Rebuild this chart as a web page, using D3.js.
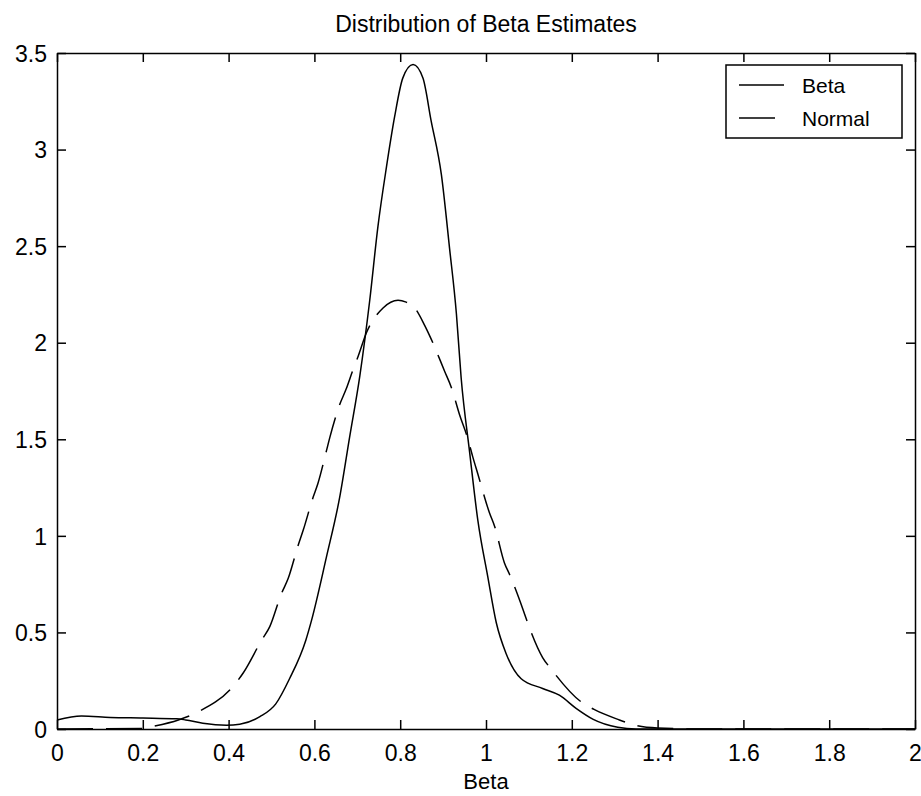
<!DOCTYPE html>
<html>
<head>
<meta charset="utf-8">
<script src="https://cdn.jsdelivr.net/npm/d3@7"></script>
<style>
    body { margin: 0; background: #fff; }
    text { font-family: "Liberation Sans", Arial, sans-serif; fill: #000; }
</style>
</head>
<body>
<div id="chart"></div>
<script>
'use strict';

let width = 921;
let height = 796;
let margin = { top: 53, bottom: 67, left: 57, right: 6 };

// values
const betaX = [0, 0.057, 0.124, 0.2, 0.279, 0.30, 0.34, 0.395, 0.426, 0.473, 0.51, 0.542, 0.58, 0.593,
    0.628, 0.659, 0.682, 0.706, 0.729, 0.748, 0.768, 0.787, 0.806, 0.830, 0.853, 0.872, 0.896, 0.915,
    0.931, 0.942, 0.962, 0.981, 1.004, 1.024, 1.047, 1.082, 1.132, 1.171, 1.21, 1.25, 1.307, 1.35, 2.0];
const betaY = [0.047, 0.067, 0.06, 0.057, 0.053, 0.047, 0.03, 0.02, 0.025, 0.064, 0.13, 0.26, 0.46, 0.56,
    0.89, 1.20, 1.51, 1.83, 2.22, 2.60, 2.91, 3.17, 3.37, 3.44, 3.37, 3.15, 2.87, 2.49,
    2.15, 1.82, 1.43, 1.08, 0.79, 0.55, 0.39, 0.26, 0.21, 0.175, 0.107, 0.05, 0.009, 0, 0];

const normalX = [0, 0.2, 0.22, 0.283, 0.33, 0.41, 0.434, 0.477, 0.496, 0.523, 0.539, 0.562, 0.574, 0.597,
    0.608, 0.628, 0.636, 0.659, 0.674, 0.690, 0.702, 0.721, 0.760, 0.795, 0.814, 0.830, 0.857, 0.872,
    0.904, 0.919, 0.938, 0.958, 0.969, 0.981, 1.008, 1.02, 1.043, 1.055, 1.086, 1.097, 1.132, 1.152,
    1.222, 1.253, 1.311, 1.346, 1.40, 1.5, 2.0];
const normalY = [0, 0.003, 0.012, 0.047, 0.09, 0.22, 0.29, 0.46, 0.53, 0.70, 0.78, 0.95, 1.03, 1.20,
    1.27, 1.44, 1.51, 1.68, 1.76, 1.86, 1.93, 2.05, 2.18, 2.22, 2.21, 2.19, 2.09, 2.02,
    1.85, 1.77, 1.63, 1.50, 1.41, 1.32, 1.12, 1.05, 0.86, 0.80, 0.62, 0.55, 0.37, 0.31,
    0.14, 0.10, 0.047, 0.02, 0.005, 0, 0];

const xTicks = [0, 0.2, 0.4, 0.6, 0.8, 1, 1.2, 1.4, 1.6, 1.8, 2];
const yTicks = [0, 0.5, 1, 1.5, 2, 2.5, 3, 3.5];
const seriesNames = ["Beta", "Normal"];

const title = "Distribution of Beta Estimates";
const xLabel = "Beta";

let svg = d3.select("#chart")
    .append("svg")
    .attr("width", width)
    .attr("height", height);

const xScale = d3.scaleLinear()
    .domain([0, 2])
    .range([margin.left, width - margin.right]);

const yScale = d3.scaleLinear()
    .domain([0, 3.5])
    .range([height - margin.bottom, margin.top]);

const x0 = xScale.range()[0], x1 = xScale.range()[1];
const y0 = yScale.range()[0], y1 = yScale.range()[1];
const tickLen = 9;

// axes (bottom/left with labels, top/right mirrored ticks only)
const xAxis = d3.axisBottom(xScale)
    .tickValues(xTicks)
    .tickSizeInner(-tickLen)
    .tickSizeOuter(0)
    .tickPadding(16)
    .tickFormat(d3.format("~g"));

const yAxis = d3.axisLeft(yScale)
    .tickValues(yTicks)
    .tickSizeInner(-tickLen)
    .tickSizeOuter(0)
    .tickPadding(10)
    .tickFormat(d3.format("~g"));

svg.append("g")
    .attr("transform", `translate(0,${y0})`)
    .call(xAxis)
    .call(g => g.selectAll("text").style("font-size", "23px"));

svg.append("g")
    .attr("transform", `translate(${x0},0)`)
    .call(yAxis)
    .call(g => g.selectAll("text").style("font-size", "23px").attr("dy", "0.36em"));

svg.append("g")
    .attr("transform", `translate(0,${y1})`)
    .call(d3.axisTop(xScale).tickValues(xTicks).tickSizeInner(-tickLen).tickSizeOuter(0).tickFormat(""));

svg.append("g")
    .attr("transform", `translate(${x1},0)`)
    .call(d3.axisRight(yScale).tickValues(yTicks).tickSizeInner(-tickLen).tickSizeOuter(0).tickFormat(""));

svg.selectAll(".domain, .tick line")
    .attr("stroke", "#000")
    .attr("stroke-width", 1.5);

const line = d3.line()
    .x(d => xScale(d[0]))
    .y(d => yScale(d[1]))
    .curve(d3.curveMonotoneX);

const betaData = betaX.map((x, i) => [x, betaY[i]]);
const normalData = normalX.map((x, i) => [x, normalY[i]]);

svg.append("path")
    .datum(normalData)
    .attr("d", line)
    .attr("fill", "none")
    .attr("stroke", "#000")
    .attr("stroke-width", 1.5)
    .attr("stroke-dasharray", "36,13");

svg.append("path")
    .datum(betaData)
    .attr("d", line)
    .attr("fill", "none")
    .attr("stroke", "#000")
    .attr("stroke-width", 1.5);

// title + x label
svg.append("text")
    .attr("x", (x0 + x1) / 2)
    .attr("y", 32)
    .attr("text-anchor", "middle")
    .style("font-size", "23px")
    .text(title);

svg.append("text")
    .attr("x", (x0 + x1) / 2)
    .attr("y", 789)
    .attr("text-anchor", "middle")
    .style("font-size", "22px")
    .text(xLabel);

// legend
const legend = svg.append("g").attr("transform", "translate(726,65)");

legend.append("rect")
    .attr("width", 176)
    .attr("height", 73)
    .attr("fill", "#fff")
    .attr("stroke", "#000")
    .attr("stroke-width", 1.5);

seriesNames.forEach((name, i) => {
    const ly = 20 + i * 33;
    legend.append("line")
        .attr("x1", 13).attr("x2", 58)
        .attr("y1", ly).attr("y2", ly)
        .attr("stroke", "#000")
        .attr("stroke-width", 1.5)
        .attr("stroke-dasharray", i === 1 ? "36,13" : null);
    legend.append("text")
        .attr("x", 76)
        .attr("y", ly + 8)
        .style("font-size", "21px")
        .text(name);
});
</script>
</body>
</html>
